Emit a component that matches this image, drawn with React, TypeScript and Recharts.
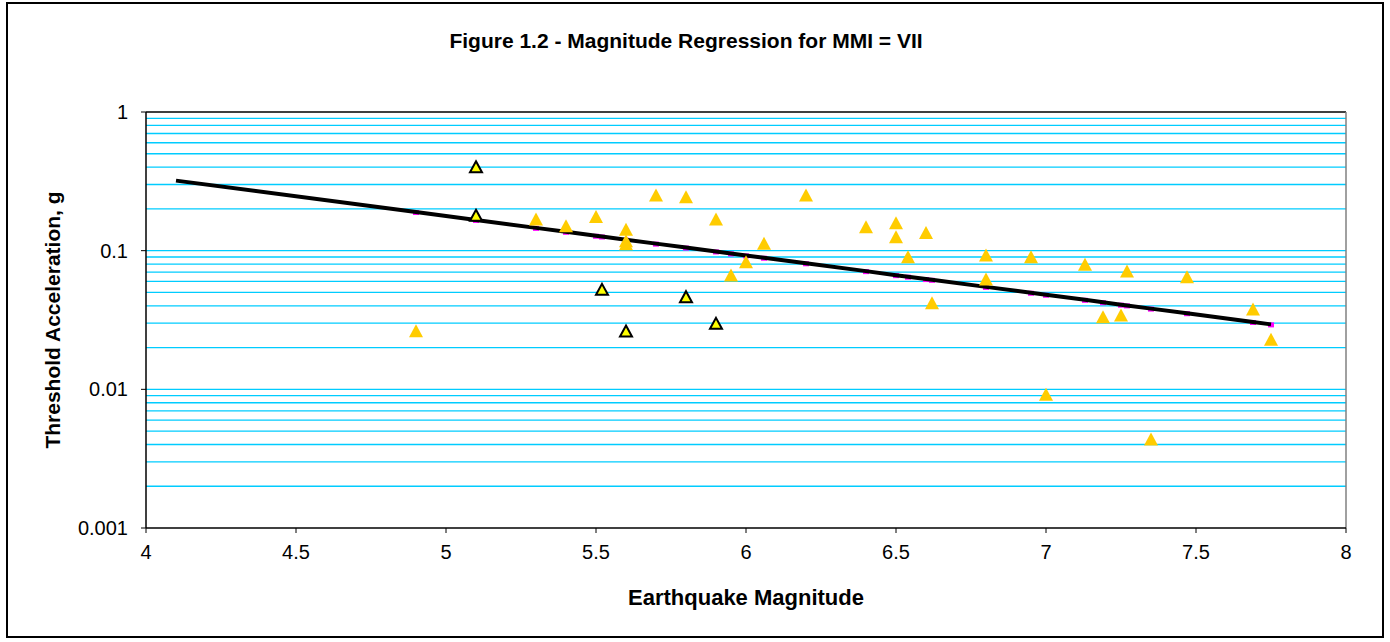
import React from "react";
import {
  ReferenceLine,
  Scatter,
  ScatterChart,
  XAxis,
  YAxis,
} from "recharts";

// observed events (no outline)
const OBS_MAG = [
  4.9, 5.3, 5.4, 5.5, 5.6, 5.6, 5.6, 5.7, 5.8, 5.9, 5.95, 6.0, 6.06, 6.2, 6.4,
  6.5, 6.5, 6.54, 6.6, 6.62, 6.8, 6.8, 6.95, 7.0, 7.13, 7.19, 7.25, 7.27, 7.35,
  7.47, 7.69, 7.75,
];
const OBS_ACC = [
  0.0265, 0.169, 0.151, 0.176, 0.143, 0.118, 0.112, 0.252, 0.245, 0.169,
  0.0668, 0.0832, 0.113, 0.252, 0.149, 0.159, 0.126, 0.0905, 0.135, 0.0421,
  0.093, 0.0625, 0.0905, 0.0092, 0.0797, 0.0334, 0.0344, 0.0713, 0.00438,
  0.0649, 0.038, 0.023,
];

// events drawn with black outline
const OUT_MAG = [5.1, 5.1, 5.52, 5.6, 5.8, 5.9];
const OUT_ACC = [0.403, 0.18, 0.0526, 0.0263, 0.0466, 0.0299];

// regression values
const FIT_MAG = [
  4.1, 4.9, 5.1, 5.3, 5.4, 5.5, 5.52, 5.6, 5.7, 5.8, 5.9, 5.95, 6.0, 6.06, 6.2,
  6.4, 6.5, 6.54, 6.6, 6.62, 6.8, 6.95, 7.0, 7.13, 7.19, 7.25, 7.27, 7.35, 7.47,
  7.69, 7.75,
];
const FIT_ACC = [
  0.32, 0.19, 0.1665, 0.146, 0.1368, 0.1281, 0.1265, 0.12, 0.1124, 0.1053,
  0.0987, 0.0955, 0.0924, 0.0889, 0.0811, 0.0712, 0.0666, 0.0649, 0.0624,
  0.0616, 0.0548, 0.0497, 0.0481, 0.0442, 0.0425, 0.0408, 0.0403, 0.0382,
  0.0354, 0.0306, 0.0294,
];

const X_TICKS = [4, 4.5, 5, 5.5, 6, 6.5, 7, 7.5, 8];
const Y_TICKS = [0.001, 0.01, 0.1, 1];
const Y_GRID = [
  0.002, 0.003, 0.004, 0.005, 0.006, 0.007, 0.008, 0.009, 0.01, 0.02, 0.03,
  0.04, 0.05, 0.06, 0.07, 0.08, 0.09, 0.1, 0.2, 0.3, 0.4, 0.5, 0.6, 0.7, 0.8,
  0.9,
];

const FONT = "'Liberation Sans', Arial, sans-serif";

const obsData = OBS_MAG.map((x, i) => ({ x, y: OBS_ACC[i] }));
const outData = OUT_MAG.map((x, i) => ({ x, y: OUT_ACC[i] }));
const fitData = FIT_MAG.map((x, i) => ({ x, y: FIT_ACC[i] }));
// the line's start point has no marker in the original
const fitMarks = fitData.slice(1);

const OrangeTri = (props: any) => {
  const { cx, cy } = props;
  return (
    <polygon
      points={`${cx},${cy - 6.5} ${cx + 7},${cy + 6.5} ${cx - 7},${cy + 6.5}`}
      fill="#FFCC00"
    />
  );
};

const OutlinedTri = (props: any) => {
  const { cx, cy } = props;
  return (
    <polygon
      points={`${cx},${cy - 5.5} ${cx + 6},${cy + 5.5} ${cx - 6},${cy + 5.5}`}
      fill="#FFFF00"
      stroke="#000"
      strokeWidth={2}
      strokeLinejoin="miter"
    />
  );
};

const FitDot = (props: any) => {
  const { cx, cy } = props;
  return <rect x={cx - 3} y={cy - 2} width={6} height={5} fill="#FF00FF" />;
};

const NoDot = () => <g />;

const tickStyle = { fontSize: 20, fill: "#000", fontFamily: FONT };

export default function App() {
  return (
    <div
      style={{
        position: "absolute",
        left: 0,
        top: 0,
        width: 1390,
        height: 642,
        background: "#fff",
        fontFamily: FONT,
      }}
    >
      <div
        style={{
          position: "absolute",
          left: 6,
          top: 2,
          width: 1374,
          height: 632,
          border: "2px solid #000",
        }}
      />
      <div
        style={{
          position: "absolute",
          left: 0,
          width: 1372,
          top: 28,
          textAlign: "center",
          fontWeight: "bold",
          fontSize: 21,
          lineHeight: "26px",
        }}
      >
        Figure 1.2 - Magnitude Regression for MMI = VII
      </div>
      <div
        style={{
          position: "absolute",
          left: 146,
          width: 1200,
          top: 584,
          textAlign: "center",
          fontWeight: "bold",
          fontSize: 22,
          lineHeight: "28px",
        }}
      >
        Earthquake Magnitude
      </div>
      <div
        style={{
          position: "absolute",
          left: 53 - 200,
          top: 320 - 14,
          width: 400,
          height: 28,
          lineHeight: "28px",
          textAlign: "center",
          fontWeight: "bold",
          fontSize: 21,
          transform: "rotate(-90deg)",
        }}
      >
        Threshold Acceleration, g
      </div>
      <div style={{ position: "absolute", left: 0, top: 0 }}>
        <ScatterChart
          width={1390}
          height={642}
          margin={{ top: 112, right: 44, bottom: 74, left: 66 }}
        >
          <XAxis
            type="number"
            dataKey="x"
            domain={[4, 8]}
            ticks={X_TICKS}
            interval={0}
            tickSize={5}
            tickMargin={12}
            height={40}
            stroke="#000"
            tick={tickStyle}
            tickLine={{ stroke: "#000" }}
            axisLine={{ stroke: "#000", strokeWidth: 1.5 }}
          />
          <YAxis
            type="number"
            dataKey="y"
            scale="log"
            domain={[0.001, 1]}
            allowDataOverflow
            ticks={Y_TICKS}
            interval={0}
            tickSize={5}
            tickMargin={13}
            width={80}
            tick={tickStyle}
            tickLine={{ stroke: "#000" }}
            axisLine={{ stroke: "#000", strokeWidth: 1.5 }}
          />
          {Y_GRID.map((v) => (
            <ReferenceLine
              key={v}
              y={v}
              stroke="#00CCFF"
              strokeWidth={1.3}
            />
          ))}
          <ReferenceLine y={1} stroke="#000" strokeWidth={1.5} />
          <ReferenceLine x={8} stroke="#808080" strokeWidth={1.5} />
          <Scatter
            data={fitMarks}
            shape={FitDot}
            isAnimationActive={false}
          />
          <Scatter
            data={fitData}
            shape={NoDot}
            line={{ stroke: "#000", strokeWidth: 4 }}
            isAnimationActive={false}
          />
          <Scatter data={obsData} shape={OrangeTri} isAnimationActive={false} />
          <Scatter
            data={outData}
            shape={OutlinedTri}
            isAnimationActive={false}
          />
        </ScatterChart>
      </div>
    </div>
  );
}
